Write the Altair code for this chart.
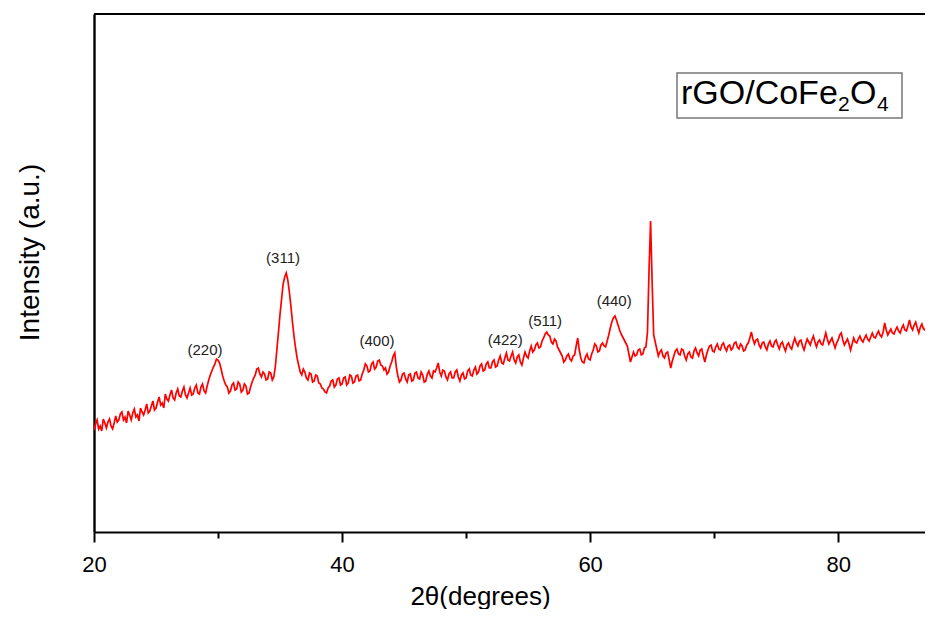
import altair as alt
import pandas as pd

# Scan positions: 2-theta from 20.0 to 87.75 in 0.125 degree steps
TH_START, TH_STEP = 20.0, 0.125

# Intensity (a.u.), one row per 2 degrees (16 points per row)
intensity = [
    # 20 - 21.875
    102, 108, 112, 103, 106, 101, 113, 109, 104, 110, 113, 106, 103, 109, 116, 110,
    # 22
    112, 118, 120, 112, 115, 109, 121, 117, 112, 119, 123, 115, 117, 111, 124, 120,
    # 24
    117, 122, 128, 119, 121, 126, 131, 122, 124, 130, 135, 127, 129, 124, 138, 133,
    # 26
    131, 137, 142, 134, 132, 139, 143, 136, 135, 141, 145, 137, 134, 139, 144, 137,
    # 28
    138, 144, 147, 139, 138, 145, 148, 141, 139, 146, 152, 157, 161, 165, 168, 173,
    # 30
    172, 169, 163, 156, 151, 147, 145, 139, 141, 147, 149, 142, 143, 150, 148, 140,
    # 32
    142, 148, 146, 138, 139, 145, 150, 154, 157, 163, 164, 158, 155, 160, 158, 152,
    # 34
    153, 160, 159, 152, 155, 166, 183, 200, 218, 233, 248, 255, 259, 252, 240, 226,
    # 36
    210, 196, 184, 174, 167, 160, 157, 163, 160, 154, 152, 159, 158, 150, 151, 157,
    # 38
    156, 149, 148, 144, 143, 140, 139, 144, 146, 151, 152, 145, 147, 153, 154, 147,
    # 40
    148, 154, 155, 147, 149, 157, 156, 149, 150, 156, 157, 151, 152, 158, 162, 168,
    # 42
    166, 160, 161, 168, 170, 163, 165, 171, 172, 167, 166, 162, 164, 158, 160, 166,
    # 44
    170, 176, 179, 165, 156, 150, 152, 158, 159, 153, 150, 157, 158, 151, 152, 159,
    # 46
    160, 154, 153, 160, 157, 150, 151, 158, 161, 156, 154, 161, 160, 164, 169, 160,
    # 48
    156, 162, 161, 155, 152, 158, 160, 154, 154, 160, 162, 155, 151, 157, 159, 153,
    # 50
    154, 161, 163, 157, 156, 162, 165, 158, 160, 166, 168, 161, 162, 168, 170, 164,
    # 52
    164, 170, 172, 165, 166, 172, 176, 169, 168, 174, 179, 172, 171, 176, 180, 172,
    # 54
    169, 175, 177, 170, 167, 174, 180, 176, 174, 181, 186, 180, 182, 187, 189, 184,
    # 56
    185, 191, 194, 198, 200, 197, 196, 190, 188, 193, 191, 185, 182, 179, 176, 170,
    # 58
    172, 176, 178, 173, 171, 176, 177, 186, 194, 182, 174, 170, 169, 175, 178, 173,
    # 60
    172, 178, 182, 188, 186, 180, 181, 187, 189, 186, 185, 191, 197, 204, 210, 214,
    # 62
    216, 212, 207, 202, 198, 195, 192, 189, 186, 178, 170, 175, 180, 176, 177, 182,
    # 64
    183, 177, 178, 184, 185, 200, 262, 311, 250, 197, 190, 183, 176, 180, 182, 176,
    # 66
    174, 179, 180, 172, 164, 171, 176, 181, 183, 178, 177, 183, 182, 176, 172, 178,
    # 68
    180, 175, 174, 181, 184, 179, 176, 182, 183, 176, 170, 177, 182, 186, 187, 181,
    # 70
    180, 185, 188, 183, 182, 187, 189, 184, 181, 186, 187, 182, 184, 189, 190, 185,
    # 72
    183, 188, 186, 181, 182, 187, 189, 194, 200, 193, 188, 192, 193, 187, 184, 189,
    # 74
    190, 185, 182, 188, 191, 186, 185, 190, 192, 187, 183, 188, 190, 185, 181, 187,
    # 76
    189, 185, 183, 189, 194, 189, 186, 191, 192, 186, 182, 188, 193, 190, 187, 192,
    # 78
    196, 190, 185, 190, 192, 188, 187, 193, 199, 193, 188, 191, 194, 189, 184, 189,
    # 80
    192, 197, 199, 192, 187, 190, 193, 188, 182, 188, 194, 190, 189, 193, 196, 192,
    # 82
    190, 194, 197, 193, 191, 195, 199, 195, 194, 198, 201, 197, 195, 200, 209, 202,
    # 84
    197, 200, 203, 199, 198, 202, 205, 201, 199, 204, 207, 202, 201, 206, 212, 205,
    # 86 - 87.75
    202, 207, 210, 204, 199, 205, 208, 203, 202, 208, 211, 206, 205, 210, 209,
]
two_theta = [TH_START + TH_STEP * i for i in range(len(intensity))]

peak_labels = ["(220)", "(311)", "(400)", "(422)", "(511)", "(440)"]
peak_x = [28.95, 35.24, 42.82, 53.15, 56.37, 61.94]
peak_y = [177, 269, 186, 187, 206, 226]

df = pd.DataFrame({"two_theta": two_theta, "intensity": intensity})
labels_df = pd.DataFrame({"x": peak_x, "y": peak_y, "label": peak_labels})
one = pd.DataFrame({"k": [0]})

W, H = 831, 518
FONT = "Liberation Sans, Arial, sans-serif"

xscale = alt.Scale(domain=[20, 87.0], nice=False, zero=False)
yscale = alt.Scale(domain=[0, 518], nice=False, zero=False)

x_axis = alt.Axis(
    values=[20, 30, 40, 50, 60, 70, 80],
    labelExpr="datum.value % 20 === 0 ? datum.label : ''",
    title="2θ(degrees)",
    titleFont=FONT, titleFontSize=26, titleFontWeight="normal", titleColor="black",
    titleX=386, titleY=72, titleAlign="center", titleBaseline="alphabetic", titleAnchor="start",
    labelFont=FONT, labelFontSize=22, labelColor="black", labelPadding=12,
    labelFlush=False, labelOverlap=False,
    tickColor="black", tickWidth=2,
    tickSize={"condition": {"test": "datum.value % 20 === 0", "value": 10}, "value": 6},
    domainColor="black", domainWidth=2, grid=False,
)
y_axis = alt.Axis(
    ticks=False, labels=False, grid=False,
    domainColor="black", domainWidth=2.4,
    title="Intensity (a.u.)",
    titleFont=FONT,
    titleFontSize=28, titleFontWeight="normal", titleColor="black",
    titleAngle=270, titleX=-64, titleY=238, titleAlign="center", titleBaseline="middle",
)

line = alt.Chart(df).mark_line(color="#ff0000", strokeWidth=1.7, clip=True).encode(
    x=alt.X("two_theta:Q", scale=xscale, axis=x_axis),
    y=alt.Y("intensity:Q", scale=yscale, axis=y_axis),
)

peaks = alt.Chart(labels_df).mark_text(
    font=FONT, fontSize=15, color="#222222", align="center", baseline="alphabetic"
).encode(x="x:Q", y="y:Q", text="label:N")

top_border = alt.Chart(one).mark_rule(color="black", strokeWidth=2.2).encode(
    x=alt.value(0), x2=alt.value(W), y=alt.value(0)
)

legend_box = alt.Chart(one).mark_rect(fill="white", stroke="#777777", strokeWidth=1.5).encode(
    x=alt.value(583), x2=alt.value(808), y=alt.value(59), y2=alt.value(104)
)

def txt(s, x, y, size):
    return alt.Chart(one).mark_text(
        font=FONT, fontSize=size, color="black", align="left", baseline="alphabetic"
    ).encode(x=alt.value(x), y=alt.value(y), text=alt.value(s))

legend_text = [
    txt("rGO/CoFe", 587, 90, 34),
    txt("2", 744, 97, 21),
    txt("O", 756, 90, 34),
    txt("4", 783, 97, 21),
]

chart = alt.layer(line, peaks, top_border, legend_box, *legend_text).properties(
    width=W, height=H,
    autosize=alt.AutoSizeParams(type="none"),
    padding={"left": 86, "top": 6, "right": 0, "bottom": 77},
).configure_view(stroke=None).configure(background="white")

chart.save("out.html", embed_options={"renderer": "svg", "actions": False})
